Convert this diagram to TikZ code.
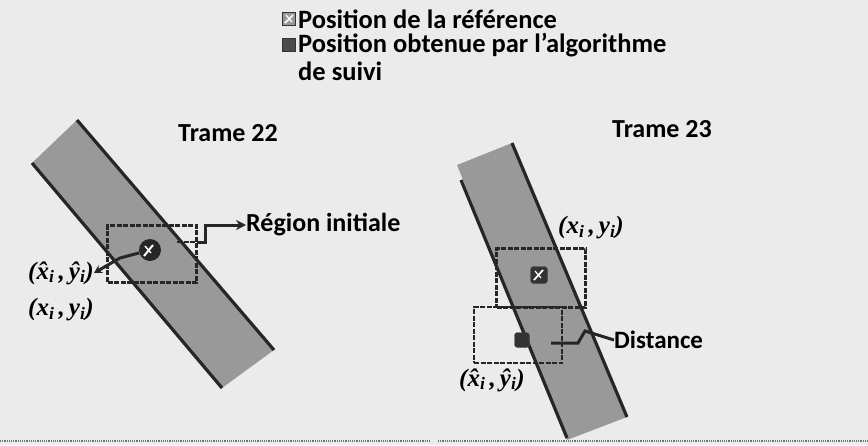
\documentclass[tikz,border=0pt]{standalone}
\usepackage{fontspec}
\setmainfont{Carlito}
\newfontfamily\coordfont{Liberation Serif}
\usetikzlibrary{arrows.meta}
\definecolor{bgc}{gray}{0.92}
\definecolor{bandc}{gray}{0.6}
\newcommand{\hx}{\^{x}}
\newcommand{\hy}{\^{y}}
\tikzset{
  edge/.style={line width=3.2pt, black!85},
  band/.style={fill=bandc, draw=none},
  regbox/.style={draw=black!85, line width=2.4pt, dash pattern=on 5pt off 1.5pt},
  title/.style={font=\fontsize{26}{28}\selectfont\bfseries, inner sep=0pt},
  lbl/.style={font=\fontsize{26}{28}\selectfont\bfseries, inner sep=0pt, anchor=west},
  coordlbl/.style={inner sep=0pt},
  conn/.style={line width=3pt, black!85},
  trackmk/.style={fill=black!80, draw=black!70, rounded corners=3pt, inner sep=0pt},
}
\newcommand{\crd}[1]{{\coordfont\fontsize{25}{27}\selectfont\bfseries\itshape #1}}
\begin{document}
\begin{tikzpicture}[x=1pt,y=-1pt]
\useasboundingbox (0,0) rectangle (868,445);
\fill[bgc] (0,0) rectangle (868,445);
% bottom lines
\draw[black!55, line width=1.2pt, densely dotted] (0,441) -- (430,441);
\draw[black!55, line width=1.2pt, densely dotted] (438,441) -- (868,441);

% legend
\node[draw=black!80, fill=black!40, line width=1.5pt, minimum size=13pt, inner sep=0pt] (ic1) at (289,19) {};
\draw[white, line width=1.5pt] (285,23) -- (293,15);
\draw[white, line width=1.2pt] (286,15) -- (292,22);
\node[draw=black!80, fill=black!70, line width=1pt, minimum size=13pt, inner sep=0pt] (ic2) at (289,45) {};
\node[lbl, font=\fontsize{26.5}{28}\selectfont\bfseries] (l1) at (298,19) {Position de la référence};
\node[lbl, font=\fontsize{26.5}{28}\selectfont\bfseries] (l2) at (298,45) {Position obtenue par l’algorithme};
\node[lbl, font=\fontsize{26.5}{28}\selectfont\bfseries] (l3) at (298,71) {de suivi};

% ---------- left panel ----------
\node[title] (t22) at (228,133) {Trame 22};
\fill[band] (32,163) -- (77,120) -- (274,350) -- (222,388) -- cycle;
\draw[edge] (77,120) -- (274,350);
\draw[edge] (32,163) -- (222,388);
\node[regbox, minimum width=89pt, minimum height=57pt, inner sep=0pt] (box22) at (152,254) {};
\draw[regbox] (177,242) -- (197,242);
\node[circle, fill=black!85, minimum size=22pt, inner sep=0pt] (mk22) at (150,250) {};
\draw[white, line width=2pt] (144,256) -- (153,245);
\draw[white, line width=1.4pt] (145,246) -- (151,253);
\node[lbl] (reg) at (246,225) {Région initiale};
\draw[conn, -{Stealth[length=10pt,width=10pt]}] (box22.east |- 0,242) -- (205,242) -- (205,225) -- (reg.west);
\node[coordlbl] (xh22) at (61,273) {\crd{(\hx\textsubscript{i}\,,\,\hy\textsubscript{i})}};
\node[coordlbl] (x22) at (61,310) {\crd{(x\textsubscript{i}\,,\,y\textsubscript{i})}};
\draw[conn, -{Stealth[length=8pt,width=9pt]}] (mk22) -- (120,258) -- (xh22.east);

% ---------- right panel ----------
\node[title] (t23) at (662,129) {Trame 23};
\fill[band] (457,165) -- (512,143) -- (627,417) -- (567,440) -- cycle;
\draw[edge] (512,143) -- (627,417);
\draw[edge] (461,180) -- (567,438);
\node[regbox, minimum width=89pt, minimum height=59pt, inner sep=0pt] (boxref) at (541,278) {};
\node[regbox, minimum width=88pt, minimum height=56pt, inner sep=0pt] (boxtrk) at (518,335) {};
\node[trackmk, minimum size=17pt] (ref23) at (539,275) {};
\draw[white, line width=1.8pt] (534,280) -- (543,270);
\draw[white, line width=1.2pt] (535,271) -- (541,278);
\node[trackmk, minimum size=15pt] (trk23) at (522,340) {};
\node[coordlbl] (x23) at (591,228) {\crd{(x\textsubscript{i}\,,\,y\textsubscript{i})}};
\node[coordlbl] (xh23) at (492,380) {\crd{(\hx\textsubscript{i}\,,\,\hy\textsubscript{i})}};
\node[lbl, font=\fontsize{25}{27}\selectfont\bfseries] (dist) at (614,340) {Distance};
\draw[conn] (dist.west) -- (585,331) -- (578,343) -- (551,343);
\end{tikzpicture}
\end{document}
